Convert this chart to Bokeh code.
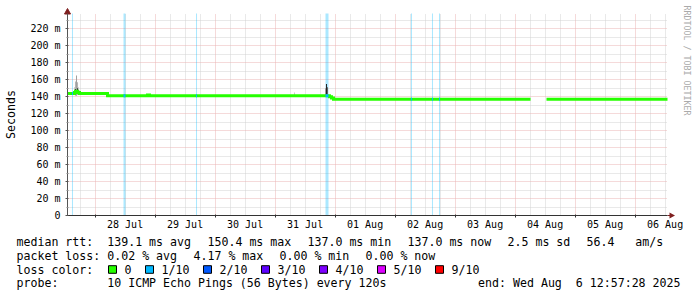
import math
from bokeh.plotting import figure
from bokeh.models import Range1d, FixedTicker, Grid
from bokeh.embed import file_html
from bokeh.resources import INLINE
from bokeh.core.properties import value

FONT = "DejaVu Sans Mono"
NB = "\u00a0"

# ---------------- data ----------------
# time axis: days relative to 28 Jul 2025 00:00
T_START = -(11 + 2 / 60 + 32 / 3600) / 24      # 27 Jul 12:57:28
T_END = 9 + (12 + 57 / 60 + 28 / 3600) / 24    # 06 Aug 12:57:28

day_labels = ["28 Jul", "29 Jul", "30 Jul", "31 Jul", "01 Aug",
              "02 Aug", "03 Aug", "04 Aug", "05 Aug", "06 Aug"]
y_tick_values = [0, 20, 40, 60, 80, 100, 120, 140, 160, 180, 200, 220]
y_tick_labels = ["0", "20 m", "40 m", "60 m", "80 m", "100 m", "120 m",
                 "140 m", "160 m", "180 m", "200 m", "220 m"]

# median rtt (ms), step changes
median_t = [-0.460, -0.343, -0.327, -0.293, -0.260, 0.207, 0.873, 0.907,
            3.906, 3.940, 3.973, 7.257, 7.523]
median_ms = [143.8, 145.0, 146.5, 145.0, 143.8, 141.0, 142.0, 141.0,
             140.0, 138.5, 137.0, float("nan"), 137.0]

# smoke (ping spread) columns
smoke_t = [-0.343, -0.327, -0.310, -0.293, -0.277, -0.260,
           -0.327, -0.293, 3.323, 3.840, 3.856, 3.873]
smoke_lo = [142, 141, 141, 142, 143, 144, 145, 145, 141, 141, 140, 142]
smoke_hi = [151, 158, 165, 157, 151, 148, 149, 150, 145, 150, 155, 151]
smoke_shade = ["#c8c8c8", "#b4b4b4", "#a0a0a0", "#b4b4b4", "#c8c8c8", "#dcdcdc",
               "#303030", "#303030", "#c8c8c8", "#a0a0a0", "#202020", "#606060"]

# packet loss events (1/10)
loss_t = [-0.377, 0.490, 1.690, 3.865, 5.273, 5.623, 5.740]
loss_dur = [0.017, 0.033, 0.017, 0.050, 0.017, 0.017, 0.017]

rtt_items = ["median rtt:  139.1 ms avg", "150.4 ms max", "137.0 ms min",
             "137.0 ms now", "2.5 ms sd", "56.4   am/s"]
loss_items = ["packet loss: 0.02 % avg", "4.17 % max", "0.00 % min", "0.00 % now"]
legend_color_title = "loss color:"
loss_color_labels = ["0", "1/10", "2/10", "3/10", "4/10", "5/10", "9/10"]
loss_colors = ["#26ff00", "#00b8ff", "#0059ff", "#5e00ff", "#7e00ff", "#dd00ff", "#ff0000"]
probe_text = "probe:       10 ICMP Echo Pings (56 Bytes) every 120s"
end_text = "end: Wed Aug  6 12:57:28 2025"
y_title = "Seconds"
watermark = "RRDTOOL / TOBI OETIKER"

# ---------------- layout ----------------
W, H = 697, 297
PLOT_L, PLOT_W = 67, 600
PLOT_T, PLOT_H = 13, 202
PLOT_B = PLOT_T + PLOT_H
Y_MAX = 238
KX = (T_END - T_START) / PLOT_W
KY = Y_MAX / PLOT_H

p = figure(width=W, height=H,
           x_range=Range1d(T_START - PLOT_L * KX, T_END + (W - PLOT_L - PLOT_W) * KX),
           y_range=Range1d(-(H - PLOT_B) * KY, Y_MAX + PLOT_T * KY),
           output_backend="svg", toolbar_location=None, min_border=0)
p.extra_x_ranges = {"px": Range1d(0, W)}
p.extra_y_ranges = {"px": Range1d(0, H)}
p.outline_line_color = None
p.grid.visible = False
p.background_fill_color = "white"
p.border_fill_color = "white"


def PY(py):
    return H - py


six_hours = [k / 4 for k in range(-1, 39) if T_START < k / 4 < T_END and k % 4 != 0]
midnights = [float(d) for d in range(0, 10)]
noons = [d + 0.5 for d in range(len(day_labels))]
y_minor = [v + 10 for v in y_tick_values]

# grids
for dim, ticks, col in [(0, six_hours, "#d2d2d2"), (1, y_minor, "#d2d2d2"),
                        (0, midnights, "#ebb4b4"), (1, y_tick_values[1:], "#ebb4b4")]:
    cb = (0, Y_MAX) if dim == 0 else (T_START, T_END)
    p.add_layout(Grid(dimension=dim, ticker=FixedTicker(ticks=ticks), cross_bounds=cb,
                      grid_line_color=col, grid_line_dash="1 1"))

# axes
xa = p.xaxis[0]
xa.fixed_location = 0
xa.bounds = (T_START, T_END)
xa.ticker = FixedTicker(ticks=noons, minor_ticks=midnights)
xa.major_label_overrides = {t: lab for t, lab in zip(noons, day_labels)}
xa.major_tick_line_color = None
xa.minor_tick_out = 2
xa.minor_tick_in = 1
xa.minor_tick_line_color = "#333333"
xa.axis_line_color = "#333333"
xa.major_label_standoff = -3
xa.major_label_text_font = FONT
xa.major_label_text_font_size = "10px"
xa.major_label_text_color = "black"

ya = p.yaxis[0]
ya.fixed_location = T_START
ya.bounds = (0, Y_MAX)
ya.ticker = FixedTicker(ticks=y_tick_values, minor_ticks=y_minor)
ya.major_label_overrides = {v: lab for v, lab in zip(y_tick_values, y_tick_labels)}
ya.major_tick_out = 2
ya.major_tick_in = 1
ya.minor_tick_out = 1
ya.minor_tick_in = 1
ya.major_tick_line_color = "#555555"
ya.minor_tick_line_color = "#888888"
ya.axis_line_color = "#555555"
ya.major_label_standoff = 5
ya.major_label_text_font = FONT
ya.major_label_text_font_size = "10px"
ya.major_label_text_color = "black"

# loss bars (full height)
p.vbar(x=loss_t, width=loss_dur, bottom=0, top=Y_MAX, fill_color=loss_colors[1],
       fill_alpha=0.33, line_color=None)

# smoke
p.vbar(x=smoke_t, width=KX, bottom=smoke_lo, top=smoke_hi,
       fill_color=smoke_shade, line_color=None)

# median line as steps
xs, ys = [], []
for i, (t, v) in enumerate(zip(median_t, median_ms)):
    t_next = median_t[i + 1] if i + 1 < len(median_t) else T_END
    xs += [t, t_next]
    ys += [v, v]
p.line(xs, ys, line_color=loss_colors[0], line_width=3, line_join="miter")


def median_at(t):
    m = median_ms[0]
    for tt, v in zip(median_t, median_ms):
        if tt <= t:
            m = v
    return m


lm = [median_at(t) for t in loss_t]
p.segment(x0=[t - d / 2 for t, d in zip(loss_t, loss_dur)],
          x1=[t + d / 2 for t, d in zip(loss_t, loss_dur)],
          y0=lm, y1=lm, line_color=loss_colors[1], line_width=3)

# arrows (pixel space)
arrow_c = "#7f1f1f"
p.patch([64, 67, 70], [PY(13.5), PY(8), PY(13.5)], fill_color=arrow_c, line_color=arrow_c,
        x_range_name="px", y_range_name="px")
p.patch([667, 669, 669, 674.5, 669, 669, 667],
        [PY(214.5), PY(214.5), PY(212), PY(215), PY(218), PY(215.5), PY(215.5)],
        fill_color=arrow_c, line_color=None, x_range_name="px", y_range_name="px")

txt = dict(text_font=value(FONT), text_baseline="middle", text_color="black",
           x_range_name="px", y_range_name="px")

# y title and watermark
p.text(x=[10], y=[PY(114)], text=[y_title], angle=math.pi / 2, text_align="center",
       text_font_size=value("11.6px"), **txt)
p.text(x=[686], y=[PY(5)], text=[watermark], angle=-math.pi / 2, text_align="left",
       text_font=value(FONT), text_baseline="middle", text_color="#aaaaaa",
       text_font_size=value("8.3px"), x_range_name="px", y_range_name="px")

# ---------------- legend ----------------
CH = 7.0
LX = 16
rows_py = [241.6, 255.3, 269.0, 282.7]
EXTRA = 2.0


def flow(items, y):
    xs_, ys_, ts_ = [], [], []
    cur = LX
    for it in items:
        xs_.append(cur)
        ys_.append(PY(y))
        ts_.append(it.replace(" ", NB))
        cur += (len(it) + 2) * CH + EXTRA
    return xs_, ys_, ts_


lx, ly, lt = [], [], []
for items, y in [(rtt_items, rows_py[0]), (loss_items, rows_py[1]),
                 ([legend_color_title], rows_py[2]), ([probe_text], rows_py[3])]:
    a, b, c = flow(items, y)
    lx += a
    ly += b
    lt += c
p.text(x=lx, y=ly, text=lt, text_font_size=value("11.6px"), **txt)
p.text(x=[680], y=[PY(rows_py[3])], text=[end_text.replace(" ", NB)], text_align="right",
       text_font_size=value("11.6px"), **txt)

sq_left, lab_x = [], []
cur = 108
for lab in loss_color_labels:
    sq_left.append(cur)
    lab_x.append(cur + 16)
    cur = cur + 16 + len(lab) * CH + 14
p.quad(left=sq_left, right=[s + 8 for s in sq_left], top=[PY(rows_py[2] - 3.8)] * len(sq_left),
       bottom=[PY(rows_py[2] + 3.8)] * len(sq_left), fill_color=loss_colors, line_color="black",
       line_width=1, x_range_name="px", y_range_name="px")
p.text(x=lab_x, y=[PY(rows_py[2])] * len(lab_x), text=loss_color_labels,
       text_font_size=value("11.6px"), **txt)

open("out.html", "w").write(file_html(p, INLINE))
